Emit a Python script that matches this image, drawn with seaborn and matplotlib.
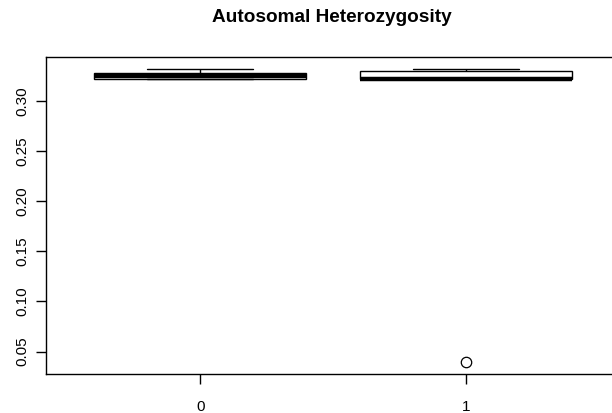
import matplotlib
matplotlib.use("Agg")
import matplotlib.pyplot as plt
import seaborn as sns
import pandas as pd

# Per-sample autosomal heterozygosity, by group
group_labels = ["0", "1"]
het_group0 = [0.3217, 0.322, 0.325, 0.328, 0.3323]
het_group1 = [0.0393, 0.322, 0.322, 0.322, 0.3303, 0.3303, 0.3317]
y_ticks = [0.05, 0.10, 0.15, 0.20, 0.25, 0.30]

df = pd.DataFrame({
    "group": [group_labels[0]] * len(het_group0) + [group_labels[1]] * len(het_group1),
    "het": het_group0 + het_group1,
})

sns.set_style("white")
plt.rcParams["font.family"] = ["Liberation Sans", "DejaVu Sans"]
plt.rcParams["text.color"] = "black"
plt.rcParams["xtick.color"] = "black"
plt.rcParams["ytick.color"] = "black"

fig = plt.figure(figsize=(6.12, 4.13), dpi=100)
ax = fig.add_axes([46 / 612, 1 - 374 / 413, (620 - 46) / 612, (374 - 57) / 413])

sns.boxplot(
    data=df, x="group", y="het", order=group_labels, ax=ax,
    width=0.8, color="white", linecolor="black", linewidth=1,
    whis=1.5,
    medianprops={"linewidth": 3.2, "color": "black", "solid_capstyle": "butt"},
    whiskerprops={"linestyle": "--", "linewidth": 1},
    capprops={"linewidth": 1},
    flierprops={"marker": "o", "markersize": 7.5, "markerfacecolor": "none",
                "markeredgecolor": "black", "markeredgewidth": 0.9},
)

ymin, ymax = min(df["het"]), max(df["het"])
pad = 0.04 * (ymax - ymin)
ax.set_ylim(ymin - pad, ymax + pad)
ax.set_xlim(-0.58, 1.58)
ax.set_yticks(y_ticks)
ax.set_yticklabels([f"{t:.2f}" for t in y_ticks], rotation=90, va="center")
ax.set_xlabel("")
ax.set_ylabel("")
ax.tick_params(axis="both", direction="out", length=7, width=1, color="black",
               labelsize=11, labelcolor="black", left=True, bottom=True)
ax.tick_params(axis="x", pad=12)
ax.tick_params(axis="y", pad=5)
for s in ax.spines.values():
    s.set_color("black")
    s.set_linewidth(1)

fig.text(332 / 612, 1 - 18 / 413, "Autosomal Heterozygosity", ha="center", va="center",
         fontsize=13.7, fontweight="bold", color="black")

fig.savefig("out.png", dpi=100)
